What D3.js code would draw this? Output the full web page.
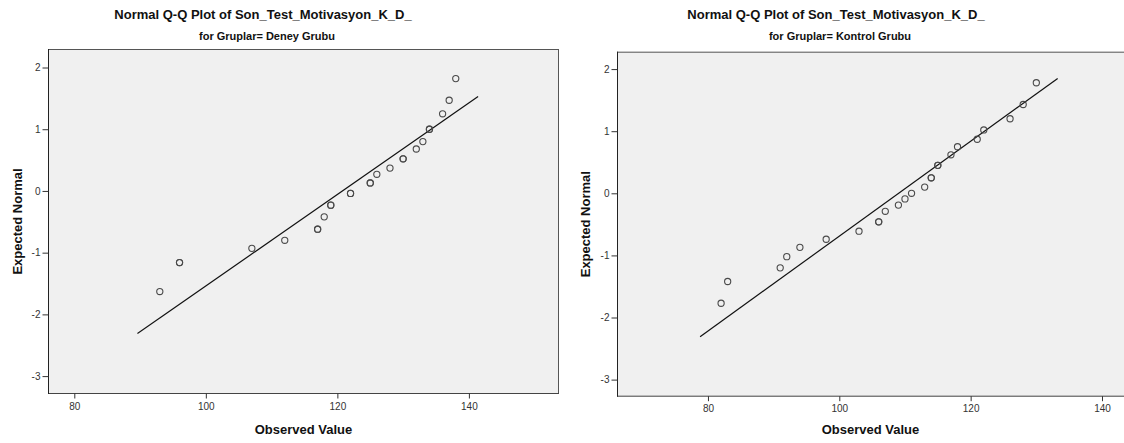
<!DOCTYPE html>
<html>
<head>
<meta charset="utf-8">
<script src="https://cdn.jsdelivr.net/npm/d3@7"></script>
<style>
  html, body { margin: 0; padding: 0; background: #fff; }
  svg { display: block; }
  text { font-family: "Liberation Sans", Arial, sans-serif; }
</style>
</head>
<body>
<svg id="chart" width="1124" height="443"></svg>
<script>
// ---------- data ----------
const mainTitle = "Normal Q-Q Plot of Son_Test_Motivasyon_K_D_";
const subTitles = ["for Gruplar= Deney Grubu", "for Gruplar= Kontrol Grubu"];
const xAxisLabel = "Observed Value";
const yAxisLabel = "Expected Normal";

const xTicks = [80, 100, 120, 140];
const yTicks = [-3, -2, -1, 0, 1, 2];

// Deney Grubu
const deneyObserved = [93, 96, 107, 112, 117, 118, 119, 122, 125, 126, 128, 130, 132, 133, 134, 136, 137, 138];
const deneyExpected = [-1.63, -1.16, -0.93, -0.80, -0.62, -0.42, -0.23, -0.04, 0.13, 0.27, 0.37, 0.52, 0.68, 0.80, 1.00, 1.25, 1.47, 1.82];
const deneyCount    = [1, 2, 1, 1, 2, 1, 2, 2, 2, 1, 1, 2, 1, 1, 2, 1, 1, 1];
const deneyLineX = [89.6, 141.4];
const deneyLineY = [-2.31, 1.53];

// Kontrol Grubu
const kontrolObserved = [82, 83, 91, 92, 94, 98, 103, 106, 107, 109, 110, 111, 113, 114, 115, 117, 118, 121, 122, 126, 128, 130];
const kontrolExpected = [-1.77, -1.42, -1.20, -1.02, -0.87, -0.74, -0.61, -0.46, -0.29, -0.19, -0.09, 0.00, 0.10, 0.25, 0.45, 0.62, 0.75, 0.87, 1.02, 1.20, 1.43, 1.78];
const kontrolCount    = [1, 1, 1, 1, 1, 1, 1, 2, 1, 1, 1, 1, 1, 2, 2, 1, 1, 1, 1, 1, 1, 1];
const kontrolLineX = [78.8, 133.25];
const kontrolLineY = [-2.31, 1.85];

// ---------- layout ----------
const panels = [
  {
    sub: subTitles[0], obs: deneyObserved, exp: deneyExpected, cnt: deneyCount,
    lx: deneyLineX, ly: deneyLineY,
    xDomain: [76, 153.7], xRange: [48, 559],
    yDomain: [-3.29, 2.30], yRange: [394, 49],
    titleX: 263, yLabelX: 22, showRight: true
  },
  {
    sub: subTitles[1], obs: kontrolObserved, exp: kontrolExpected, cnt: kontrolCount,
    lx: kontrolLineX, ly: kontrolLineY,
    xDomain: [66.15, 143.35], xRange: [617, 1124],
    yDomain: [-3.275, 2.28], yRange: [396.7, 51.7],
    titleX: 836, yLabelX: 590, showRight: false
  }
];

const fmt = d => String(d);   // plain hyphen minus like the original

const svg = d3.select("#chart");
svg.append("rect").attr("width", 1124).attr("height", 443).attr("fill", "#fff");

panels.forEach(p => {
  const x = d3.scaleLinear().domain(p.xDomain).range(p.xRange);
  const y = d3.scaleLinear().domain(p.yDomain).range(p.yRange);
  const g = svg.append("g");

  const x0 = p.xRange[0], x1 = p.xRange[1], yTop = p.yRange[1], yBot = p.yRange[0];

  // plot background
  g.append("rect")
    .attr("x", x0).attr("y", yTop)
    .attr("width", x1 - x0).attr("height", yBot - yTop)
    .attr("fill", "#f0f0f0");

  // frame
  g.append("line").attr("x1", x0).attr("x2", x1).attr("y1", yTop + 0.5).attr("y2", yTop + 0.5)
    .attr("stroke", "#555").attr("stroke-width", 1);
  if (p.showRight) {
    g.append("line").attr("x1", x1 - 0.5).attr("x2", x1 - 0.5).attr("y1", yTop).attr("y2", yBot)
      .attr("stroke", "#555").attr("stroke-width", 1);
  }
  g.append("line").attr("x1", x0).attr("x2", x1).attr("y1", yBot - 0.5).attr("y2", yBot - 0.5)
    .attr("stroke", "#444").attr("stroke-width", 1);
  g.append("line").attr("x1", x0 + 0.5).attr("x2", x0 + 0.5).attr("y1", yTop).attr("y2", yBot)
    .attr("stroke", "#222").attr("stroke-width", 1);

  // axes
  const yAx = g.append("g").attr("transform", `translate(${x0 + 0.5},0)`)
    .call(d3.axisLeft(y).tickValues(yTicks).tickSize(6).tickPadding(2).tickFormat(fmt));
  yAx.select(".domain").remove();
  yAx.selectAll(".tick line").attr("stroke", "#333");
  yAx.selectAll(".tick text").attr("fill", "#333").style("font-size", "10px")
    .style("font-family", '"Liberation Sans", Arial, sans-serif');

  const xAx = g.append("g").attr("transform", `translate(0,${yBot - 0.5})`)
    .call(d3.axisBottom(x).tickValues(xTicks).tickSize(5).tickPadding(4).tickFormat(fmt));
  xAx.select(".domain").remove();
  xAx.selectAll(".tick line").attr("stroke", "#333");
  xAx.selectAll(".tick text").attr("fill", "#333").style("font-size", "10px")
    .style("font-family", '"Liberation Sans", Arial, sans-serif');

  // reference line
  g.append("line")
    .attr("x1", x(p.lx[0])).attr("y1", y(p.ly[0]))
    .attr("x2", x(p.lx[1])).attr("y2", y(p.ly[1]))
    .attr("stroke", "#111").attr("stroke-width", 1.2);

  // points (tied cases drawn once per case so they appear darker)
  const pts = [];
  p.obs.forEach((v, i) => { for (let k = 0; k < p.cnt[i]; k++) pts.push({ o: v, e: p.exp[i] }); });
  g.selectAll("circle.pt").data(pts).enter().append("circle")
    .attr("class", "pt")
    .attr("cx", d => x(d.o)).attr("cy", d => y(d.e))
    .attr("r", 3.1)
    .attr("fill", "none").attr("stroke", "#4a4a4a").attr("stroke-width", 1.1);

  // titles
  svg.append("text").attr("x", p.titleX).attr("y", 19).attr("text-anchor", "middle")
    .style("font-size", "13px").style("font-weight", "bold").attr("fill", "#111")
    .text(mainTitle);
  svg.append("text").attr("x", p.titleX + 4).attr("y", 40).attr("text-anchor", "middle")
    .style("font-size", "11px").style("font-weight", "bold").attr("fill", "#111")
    .text(p.sub);

  // axis labels
  svg.append("text").attr("x", (x0 + x1) / 2).attr("y", 433.5).attr("text-anchor", "middle")
    .style("font-size", "13px").style("font-weight", "bold").attr("fill", "#111")
    .text(xAxisLabel);
  svg.append("text")
    .attr("transform", `translate(${p.yLabelX},${(yTop + yBot) / 2}) rotate(-90)`)
    .attr("text-anchor", "middle")
    .style("font-size", "13px").style("font-weight", "bold").attr("fill", "#111")
    .text(yAxisLabel);
});
</script>
</body>
</html>
